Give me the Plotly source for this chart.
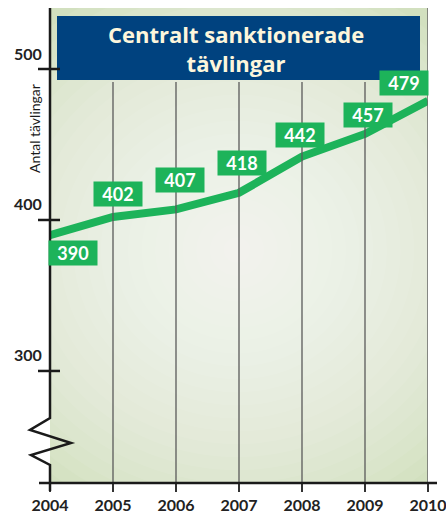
import plotly.graph_objects as go

years = [2004, 2005, 2006, 2007, 2008, 2009, 2010]
values = [390, 402, 407, 418, 442, 457, 479]
y_ticks = [300, 400, 500]
title_text = "Centralt sanktionerade<br>tävlingar"
y_title = "Antal tävlingar"

# label offsets (px) relative to the data point
label_shift = [(23, -18), (5, 23), (4, 29), (3, 30), (-2, 22), (3, 19), (-24, 18)]

W, H = 446, 514
L, R, T, B = 50, 18, 8, 31
PW, PH = W - L - R, H - T - B
Y0, Y1 = 225.8, 540.4

def px(xp):
    return (xp - L) / PW

def py(yp):
    return (H - B - yp) / PH

GREEN = "#1db35a"
DARK = "#1a1a1a"
FONT = "Lato"

fig = go.Figure()
fig.add_trace(go.Scatter(x=years, y=values, mode="lines",
                         line=dict(color=GREEN, width=8), cliponaxis=False,
                         hoverinfo="skip"))

shapes = []
# soft radial gradient in background
cx, cy = 237, 250
n = 22
for i in range(n):
    r = 300 * (1 - i / n)
    shapes.append(dict(type="circle", xref="paper", yref="paper",
                       x0=px(cx - r), x1=px(cx + r), y0=py(cy + r * 0.95), y1=py(cy - r * 0.95),
                       fillcolor="white", opacity=0.07, line=dict(width=0), layer="below"))
# vertical gridlines
for yr in years[1:-1]:
    shapes.append(dict(type="line", xref="x", yref="paper", x0=yr, x1=yr,
                       y0=0, y1=py(82), line=dict(color="#5a5a5a", width=1.3)))
shapes.append(dict(type="line", xref="x", yref="paper", x0=years[-1], x1=years[-1],
                   y0=0, y1=1, line=dict(color="#666666", width=1.5)))
# title box
shapes.append(dict(type="rect", xref="paper", yref="paper",
                   x0=px(57), x1=px(420), y0=py(80), y1=py(16),
                   fillcolor="#00427f", line=dict(width=0)))
# y axis with break
pts = [(50, 8), (50, 418), (30, 430), (71, 443), (31, 455), (50, 465), (50, 491)]
path = "M " + " L ".join(f"{px(a)},{py(b)}" for a, b in pts)
shapes.append(dict(type="path", xref="paper", yref="paper", path=path,
                   line=dict(color=DARK, width=2.5)))
for v in y_ticks:
    shapes.append(dict(type="line", xref="paper", yref="y", x0=px(38), x1=px(60),
                       y0=v, y1=v, line=dict(color=DARK, width=2.5)))
# x axis line
shapes.append(dict(type="line", xref="paper", yref="paper", x0=px(39), x1=px(437),
                   y0=0, y1=0, line=dict(color=DARK, width=2.5)))

ann = []
ann.append(dict(text=f"<b>{title_text}</b>", xref="paper", yref="paper",
                x=px(236), y=py(48), xanchor="center", yanchor="middle", showarrow=False,
                font=dict(family="Open Sans", size=22, color="#fdf6dc")))
ann.append(dict(text=y_title, xref="paper", yref="paper", x=px(34), y=py(129),
                xanchor="center", yanchor="middle", textangle=-90, showarrow=False,
                font=dict(family=FONT, size=14, color=DARK)))
for v in y_ticks:
    ann.append(dict(text=f"<b>{v}</b>", xref="paper", yref="y", x=px(44), y=v,
                    xanchor="right", yanchor="middle", yshift=16, showarrow=False,
                    font=dict(family=FONT, size=16, color="#222222")))
for yr, v, (dx, dy) in zip(years, values, label_shift):
    ann.append(dict(text=f"<b>{v}</b>", x=yr, y=v, xshift=dx, yshift=dy,
                    xanchor="center", yanchor="middle",
                    showarrow=False, width=46, height=22, bgcolor=GREEN,
                    font=dict(family=FONT, size=18, color="white")))

fig.update_layout(
    width=W, height=H, margin=dict(l=L, r=R, t=T, b=B, autoexpand=False),
    paper_bgcolor="white", plot_bgcolor="#d2e0bf",
    showlegend=False, shapes=shapes, annotations=ann,
    xaxis=dict(range=[years[0], years[-1]], tickvals=years,
               ticktext=[f"<b>{y}</b>" for y in years], automargin=False,
               ticklabeloverflow="allow",
               showgrid=False, zeroline=False, showline=False,
               ticks="outside", ticklen=8, tickwidth=1.5, tickcolor="#333333",
               tickfont=dict(family=FONT, size=16, color="#222222")),
    yaxis=dict(range=[Y0, Y1], showgrid=False, zeroline=False, showline=False,
               showticklabels=False, ticks="", automargin=False),
)
fig.write_html("out.html", config={"displayModeBar": False},
               post_script="document.body.style.margin='0';document.body.style.overflow='hidden';")
